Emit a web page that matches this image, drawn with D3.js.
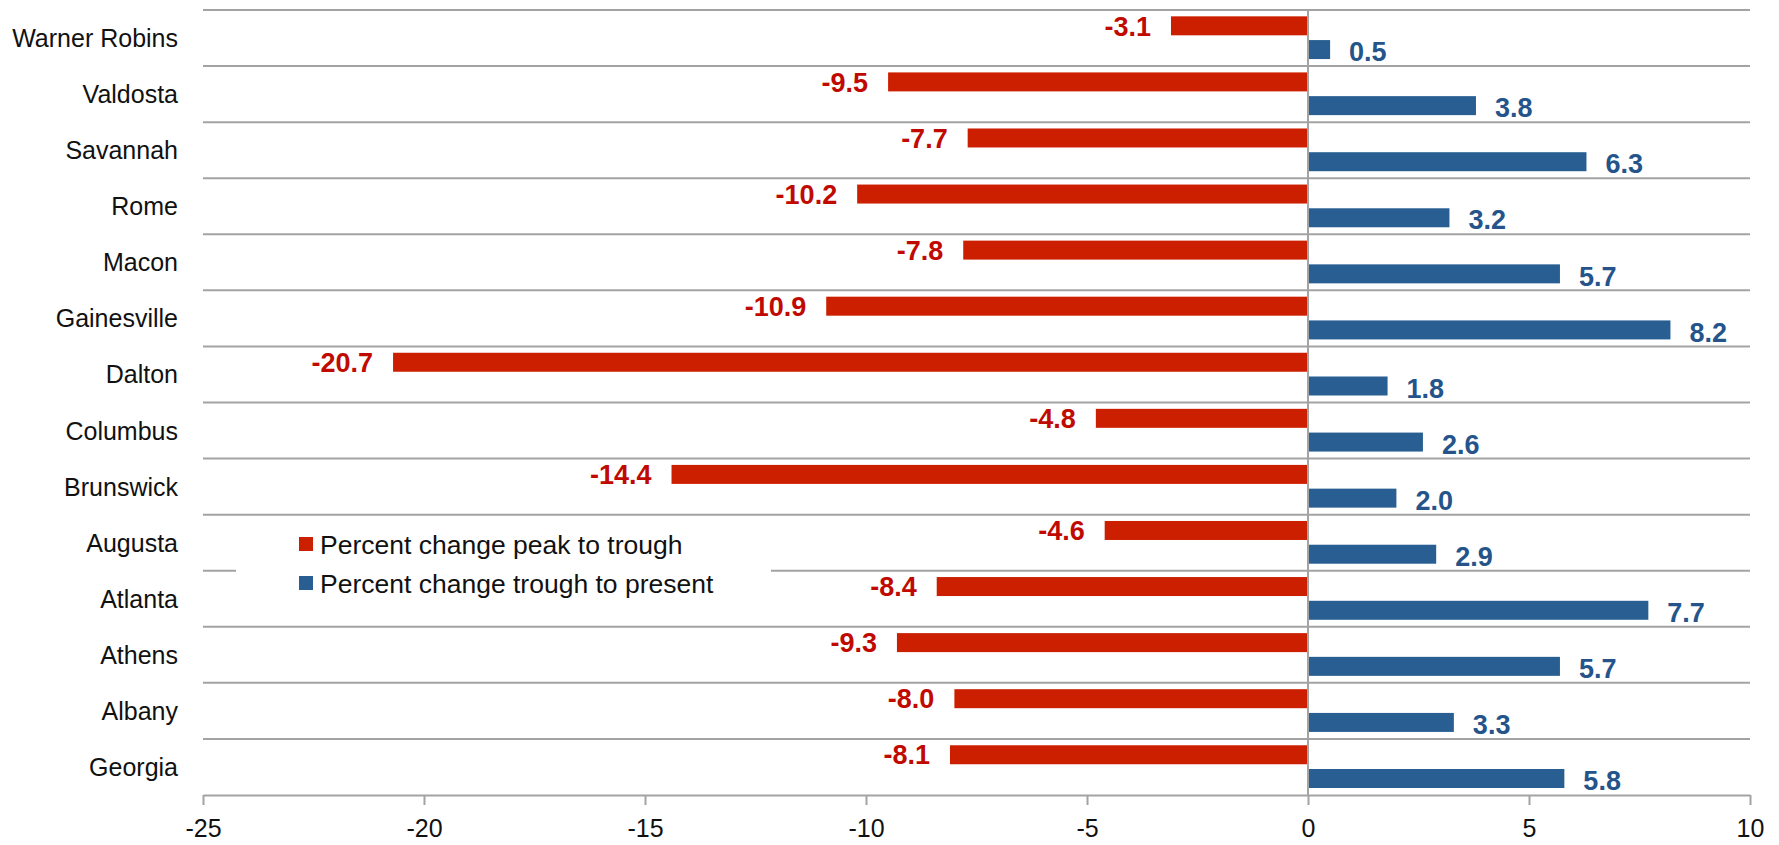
<!DOCTYPE html>
<html>
<head>
<meta charset="utf-8">
<script src="https://cdn.jsdelivr.net/npm/d3@7"></script>
<style>
  html, body { margin: 0; padding: 0; background: #ffffff; }
  svg { display: block; }
  text { font-family: "Liberation Sans", Arial, sans-serif; }
</style>
</head>
<body>
<svg id="chart" width="1779" height="845"></svg>
<script>
// Metro areas, listed top to bottom
const categories = [
  "Warner Robins", "Valdosta", "Savannah", "Rome", "Macon", "Gainesville",
  "Dalton", "Columbus", "Brunswick", "Augusta", "Atlanta", "Athens",
  "Albany", "Georgia"
];
// Percent change peak to trough
const peakToTrough = [-3.1, -9.5, -7.7, -10.2, -7.8, -10.9, -20.7, -4.8, -14.4, -4.6, -8.4, -9.3, -8.0, -8.1];
// Percent change trough to present
const troughToPresent = [0.5, 3.8, 6.3, 3.2, 5.7, 8.2, 1.8, 2.6, 2.0, 2.9, 7.7, 5.7, 3.3, 5.8];
const seriesNames = ["Percent change peak to trough", "Percent change trough to present"];
const xTicks = [-25, -20, -15, -10, -5, 0, 5, 10];

const barColors = ["#cc1f00", "#285e91"];
const labelColors = ["#c00a00", "#24548a"];
const gridColor = "#a3a3a3";

const svg = d3.select("#chart");
const plot = { left: 203, right: 1750, top: 10, bottom: 795 };

const x = d3.scaleLinear().domain([-25, 10]).range([plot.left, plot.right]);
const y0 = d3.scaleBand().domain(categories).range([plot.top, plot.bottom]).padding(0);
const bw = y0.bandwidth();
const y1 = d3.scaleBand().domain([0, 1]).range([bw * 0.113, bw * 0.875]).paddingInner(0.2);

const rows = categories.map((c, i) => ({ cat: c, vals: [peakToTrough[i], troughToPresent[i]] }));

// Horizontal gridlines at category boundaries
const gridYs = categories.map(c => y0(c));
svg.append("g").selectAll("line").data(gridYs).join("line")
  .attr("x1", plot.left).attr("x2", plot.right)
  .attr("y1", d => d).attr("y2", d => d)
  .attr("stroke", gridColor).attr("stroke-width", 2);

// Bars
const groups = svg.append("g").selectAll("g").data(rows).join("g")
  .attr("transform", d => `translate(0,${y0(d.cat)})`);

groups.selectAll("rect").data(d => d.vals.map((v, k) => ({ v, k }))).join("rect")
  .attr("x", d => x(Math.min(0, d.v)))
  .attr("width", d => Math.abs(x(d.v) - x(0)))
  .attr("y", d => y1(d.k))
  .attr("height", y1.bandwidth())
  .attr("fill", d => barColors[d.k]);

// Value labels (plain hyphen for negatives)
groups.selectAll("text").data(d => d.vals.map((v, k) => ({ v, k }))).join("text")
  .attr("x", d => d.v < 0 ? x(d.v) - 20 : x(d.v) + 19)
  .attr("y", d => y1(d.k) + y1.bandwidth() / 2 + (d.k === 1 ? 2 : 0))
  .attr("dy", "0.36em")
  .attr("text-anchor", d => d.v < 0 ? "end" : "start")
  .attr("font-size", 27)
  .attr("font-weight", "bold")
  .attr("fill", d => labelColors[d.k])
  .text(d => d.v.toFixed(1));

// Zero line
svg.append("line")
  .attr("x1", x(0)).attr("x2", x(0))
  .attr("y1", plot.top).attr("y2", plot.bottom)
  .attr("stroke", gridColor).attr("stroke-width", 2);

// Category labels
svg.append("g").selectAll("text").data(categories).join("text")
  .attr("x", 178)
  .attr("y", c => y0(c) + bw / 2)
  .attr("dy", "0.36em")
  .attr("text-anchor", "end")
  .attr("font-size", 25)
  .attr("fill", "#111")
  .text(c => c);

// Bottom axis
const axis = svg.append("g")
  .attr("transform", `translate(0,${plot.bottom})`)
  .call(d3.axisBottom(x).tickValues(xTicks).tickSize(10).tickSizeOuter(0).tickPadding(14));
axis.select(".domain").attr("stroke", gridColor).attr("stroke-width", 2);
axis.selectAll(".tick line").attr("stroke", gridColor).attr("stroke-width", 2);
axis.selectAll(".tick text")
  .attr("font-family", "'Liberation Sans', Arial, sans-serif")
  .attr("font-size", 25)
  .attr("fill", "#111")
  .text(d => String(d));

// Legend with white background
const legend = svg.append("g");
legend.append("rect")
  .attr("x", 236).attr("y", 522).attr("width", 535).attr("height", 80)
  .attr("fill", "#ffffff");
const legendYs = [544, 583];
seriesNames.forEach((name, k) => {
  legend.append("rect")
    .attr("x", 299).attr("y", legendYs[k] - 7).attr("width", 14).attr("height", 14)
    .attr("fill", barColors[k]);
  legend.append("text")
    .attr("x", 320).attr("y", legendYs[k])
    .attr("dy", "0.36em")
    .attr("font-size", 26.5)
    .attr("fill", "#111")
    .text(name);
});
</script>
</body>
</html>
